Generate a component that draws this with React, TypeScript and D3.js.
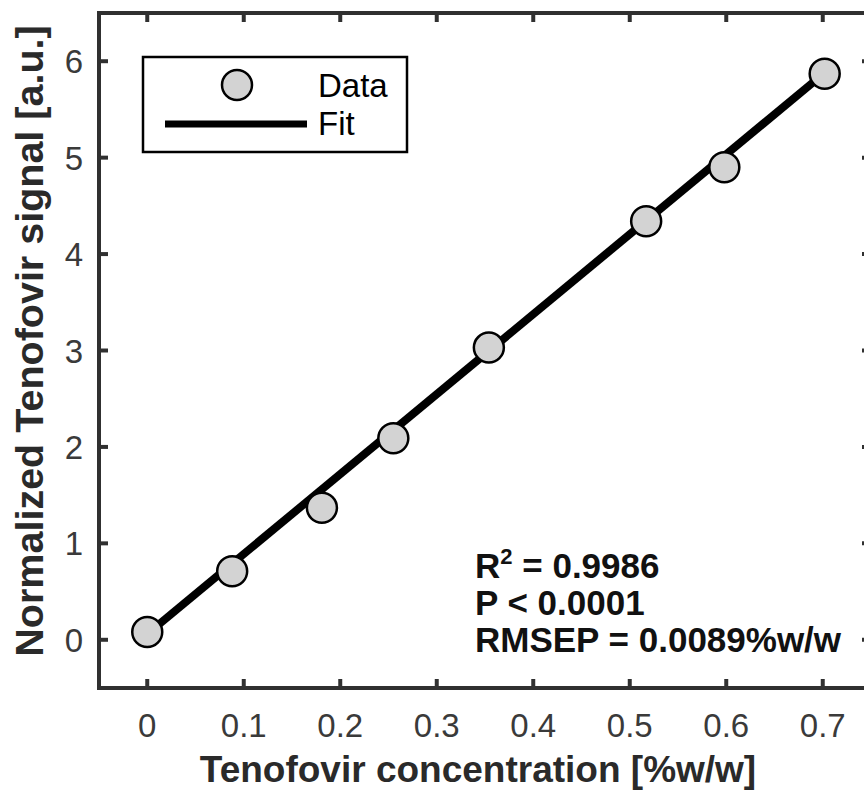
import React from "react";
import * as d3 from "d3";

// measured points
const concX = [0, 0.088, 0.181, 0.255, 0.354, 0.517, 0.598, 0.702];
const signalY = [0.08, 0.71, 1.37, 2.09, 3.03, 4.34, 4.9, 5.87];

// fitted line endpoints
const fitX = [0, 0.702];
const fitY = [0.06, 5.88];

const xTicks = [0, 0.1, 0.2, 0.3, 0.4, 0.5, 0.6, 0.7];
const yTicks = [0, 1, 2, 3, 4, 5, 6];

const statLines = ["= 0.9986", "P < 0.0001", "RMSEP = 0.0089%w/w"];

const W = 864;
const H = 792;
const axisColor = "#303030";
const font = "'Liberation Sans', Arial, Helvetica, sans-serif";

const App = () => {
  const x = d3.scaleLinear().domain([-0.05, 0.75]).range([99, 871]);
  const y = d3.scaleLinear().domain([-0.5, 6.5]).range([688, 13]);

  const line = d3
    .line<number>()
    .x((d, i) => x(fitX[i]))
    .y((d) => y(d));

  const tickLen = 9;

  return (
    <svg
      width={W}
      height={H}
      style={{ position: "absolute", left: 0, top: 0, background: "#fff" }}
      fontFamily={font}
    >
      {/* axes box */}
      <rect
        x={x(-0.05)}
        y={y(6.5)}
        width={x(0.75) - x(-0.05)}
        height={y(-0.5) - y(6.5)}
        fill="none"
        stroke={axisColor}
        strokeWidth={4}
      />
      {xTicks.map((t) => (
        <g key={"x" + t}>
          <line x1={x(t)} x2={x(t)} y1={y(-0.5)} y2={y(-0.5) - tickLen} stroke={axisColor} strokeWidth={4} />
          <line x1={x(t)} x2={x(t)} y1={y(6.5)} y2={y(6.5) + tickLen} stroke={axisColor} strokeWidth={4} />
          <text x={x(t)} y={737} textAnchor="middle" fontSize={33} fill="#3a3a3a">
            {String(t)}
          </text>
        </g>
      ))}
      {yTicks.map((t) => (
        <g key={"y" + t}>
          <line x1={x(-0.05)} x2={x(-0.05) + tickLen} y1={y(t)} y2={y(t)} stroke={axisColor} strokeWidth={4} />
          <line x1={x(0.75)} x2={x(0.75) - tickLen} y1={y(t)} y2={y(t)} stroke={axisColor} strokeWidth={4} />
          <text x={83} y={y(t) + 12} textAnchor="end" fontSize={33} fill="#3a3a3a">
            {String(t)}
          </text>
        </g>
      ))}

      {/* fit + data */}
      <path d={line(fitY) || ""} fill="none" stroke="#000" strokeWidth={8} />
      {concX.map((c, i) => (
        <circle key={i} cx={x(c)} cy={y(signalY[i])} r={15} fill="#d3d3d3" stroke="#000" strokeWidth={2.5} />
      ))}

      {/* legend */}
      <rect x={143} y={57} width={264} height={95} fill="#fff" stroke="#000" strokeWidth={2.5} />
      <circle cx={237} cy={85} r={15} fill="#d3d3d3" stroke="#000" strokeWidth={2.5} />
      <text x={318} y={97} fontSize={33} fill="#000">Data</text>
      <line x1={165} x2={307} y1={124} y2={124} stroke="#000" strokeWidth={7} />
      <text x={318} y={135} fontSize={33} fill="#000">Fit</text>

      {/* stats */}
      <text x={475} y={578} fontSize={35} fontWeight="bold" fill="#111">
        R<tspan dy={-14} fontSize={22}>2</tspan>
        <tspan dy={14}> {statLines[0]}</tspan>
      </text>
      <text x={475} y={615} fontSize={35} fontWeight="bold" fill="#111">{statLines[1]}</text>
      <text x={475} y={652} fontSize={35} fontWeight="bold" fill="#111">{statLines[2]}</text>

      {/* axis labels */}
      <text x={478} y={782} textAnchor="middle" fontSize={37} fontWeight="bold" fill="#2a2a2a">
        Tenofovir concentration [%w/w]
      </text>
      <text
        transform={`translate(43,${(25 + 657) / 2}) rotate(-90)`}
        textAnchor="middle"
        fontSize={39.5}
        fontWeight="bold"
        fill="#2a2a2a"
      >
        Normalized Tenofovir signal [a.u.]
      </text>
    </svg>
  );
};

export default App;
